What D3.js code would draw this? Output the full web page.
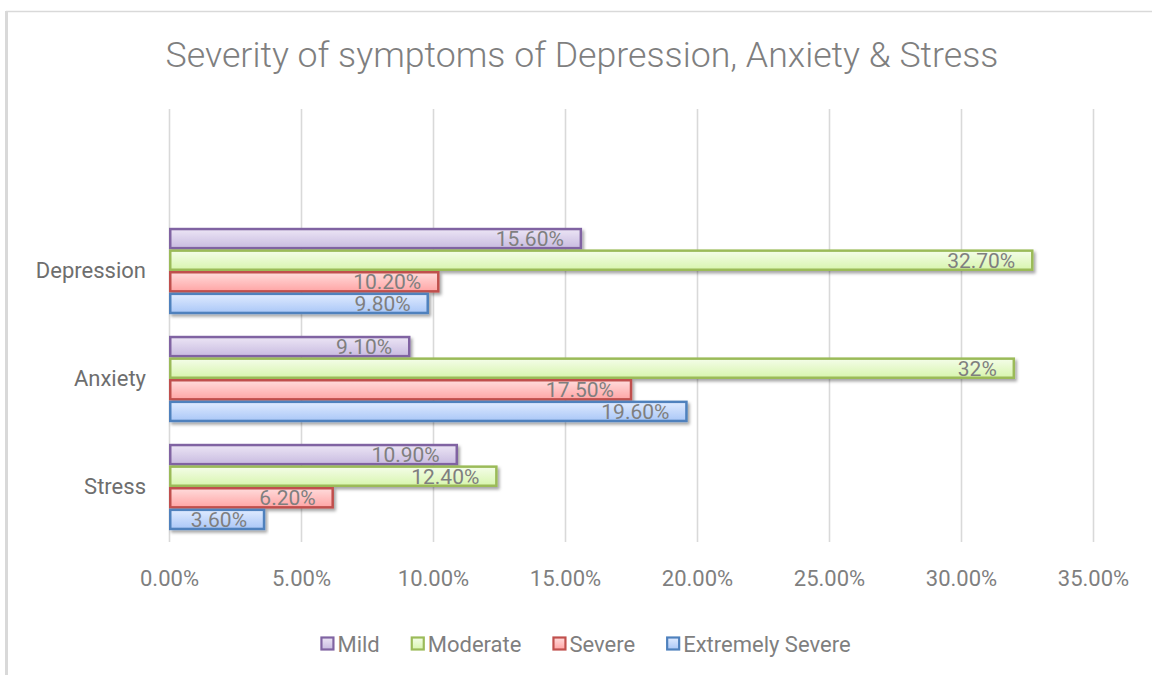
<!DOCTYPE html>
<html>
<head>
<meta charset="utf-8">
<script src="https://cdn.jsdelivr.net/npm/d3@7"></script>
<style>
  html, body { margin: 0; padding: 0; background: #ffffff; }
  svg { display: block; }
  text { font-family: Roboto, "Open Sans", sans-serif; }
</style>
</head>
<body>
<svg id="chart" width="1152" height="675"></svg>
<script>
// ---- data ----
const title = "Severity of symptoms of Depression, Anxiety & Stress";
const categories = ["", "Depression", "Anxiety", "Stress"]; // top row is an empty category
const seriesNames = ["Mild", "Moderate", "Severe", "Extremely Severe"];
const mild = [null, 15.6, 9.1, 10.9];
const moderate = [null, 32.7, 32.0, 12.4];
const severe = [null, 10.2, 17.5, 6.2];
const extremelySevere = [null, 9.8, 19.6, 3.6];
const dataLabels = {
  "Mild": [null, "15.60%", "9.10%", "10.90%"],
  "Moderate": [null, "32.70%", "32%", "12.40%"],
  "Severe": [null, "10.20%", "17.50%", "6.20%"],
  "Extremely Severe": [null, "9.80%", "19.60%", "3.60%"]
};
const xTicks = [0, 5, 10, 15, 20, 25, 30, 35];
const xTickLabels = ["0.00%", "5.00%", "10.00%", "15.00%", "20.00%", "25.00%", "30.00%", "35.00%"];

const seriesValues = { "Mild": mild, "Moderate": moderate, "Severe": severe, "Extremely Severe": extremelySevere };
const borderColors = { "Mild": "#8064a2", "Moderate": "#9bbb59", "Severe": "#c0504d", "Extremely Severe": "#4f81bd" };
const gradTop = { "Mild": "#ece5f5", "Moderate": "#f4fde9", "Severe": "#ffdcdc", "Extremely Severe": "#e0ebff" };
const gradBot = { "Mild": "#c8bbe0", "Moderate": "#d8f5ae", "Severe": "#ffa5a5", "Extremely Severe": "#aac7f7" };

const svg = d3.select("#chart");
const W = 1152, H = 675;

// defs
const defs = svg.append("defs");
seriesNames.forEach((s, i) => {
  const g = defs.append("linearGradient").attr("id", "g" + i).attr("x1", 0).attr("y1", 0).attr("x2", 0).attr("y2", 1);
  g.append("stop").attr("offset", "0%").attr("stop-color", gradTop[s]);
  g.append("stop").attr("offset", "100%").attr("stop-color", gradBot[s]);
});
const f = defs.append("filter").attr("id", "shadow").attr("x", "-5%").attr("y", "-30%").attr("width", "110%").attr("height", "170%");
f.append("feDropShadow").attr("dx", 2).attr("dy", 2.5).attr("stdDeviation", 1.5).attr("flood-color", "#000").attr("flood-opacity", 0.35);

// chart border (frame)
svg.append("rect").attr("x", 0).attr("y", 0).attr("width", W).attr("height", H).attr("fill", "#fff");
svg.append("line").attr("x1", 6).attr("x2", W).attr("y1", 11.5).attr("y2", 11.5).attr("stroke", "#d9d9d9").attr("stroke-width", 1.5);
svg.append("line").attr("x1", 6.5).attr("x2", 6.5).attr("y1", 11).attr("y2", H).attr("stroke", "#d9d9d9").attr("stroke-width", 3);

// scales
const x = d3.scaleLinear().domain([0, 35]).range([169, 1093]);
const y = d3.scaleBand().domain(categories).range([109, 541]).paddingInner(0).paddingOuter(0);
const ys = d3.scaleBand().domain(seriesNames).range([0, y.bandwidth()]).paddingInner(0).paddingOuter(0.5);

// gridlines
svg.append("g").selectAll("line").data(xTicks).join("line")
  .attr("x1", d => Math.round(x(d)) + 0.5).attr("x2", d => Math.round(x(d)) + 0.5)
  .attr("y1", 109).attr("y2", 542)
  .attr("stroke", "#d9d9d9").attr("stroke-width", 1.6);

// x axis labels
const xAxis = d3.axisBottom(x).tickValues(xTicks).tickFormat((d, i) => xTickLabels[i]).tickSize(0).tickPadding(0);
const xg = svg.append("g").attr("transform", "translate(0,569)").call(xAxis);
xg.select(".domain").remove();
xg.selectAll("text").attr("fill", "#7f7f7f").attr("font-size", 22).attr("dy", "0.75em");

// y axis labels
const yAxis = d3.axisLeft(y).tickSize(0).tickPadding(0);
const yg = svg.append("g").attr("transform", "translate(146,0)").call(yAxis);
yg.select(".domain").remove();
yg.selectAll("text").attr("fill", "#6e6e6e").attr("font-size", 22).attr("text-anchor", "end").attr("dy", "0.3em");

// bars
const rows = [];
seriesNames.forEach((s, si) => {
  categories.forEach((c, ci) => {
    const v = seriesValues[s][ci];
    if (v != null) rows.push({ s, si, c, v, label: dataLabels[s][ci] });
  });
});
const bw = 2.5;
svg.append("g").selectAll("rect").data(rows).join("rect")
  .attr("x", x(0) + bw / 2)
  .attr("y", d => y(d.c) + ys(d.s) + bw / 2)
  .attr("width", d => x(d.v) - x(0) - bw / 2)
  .attr("height", ys.bandwidth() - bw)
  .attr("fill", d => `url(#g${d.si})`)
  .attr("stroke", d => borderColors[d.s])
  .attr("stroke-width", bw)
  .attr("filter", "url(#shadow)");

// data labels
svg.append("g").selectAll("text").data(rows).join("text")
  .attr("x", d => x(d.v) - 17)
  .attr("y", d => y(d.c) + ys(d.s) + ys.bandwidth() / 2)
  .attr("dy", "0.36em")
  .attr("text-anchor", "end")
  .attr("font-size", 21)
  .attr("fill", "#7f7f7f")
  .text(d => d.label);

// title
svg.append("text").attr("x", 582).attr("y", 67).attr("text-anchor", "middle")
  .attr("font-size", 35.7).attr("font-weight", 300).attr("fill", "#7f7f7f").text(title);

// legend
const lg = svg.append("g");
const items = lg.selectAll("g").data(seriesNames).join("g");
items.append("rect").attr("x", 0).attr("y", -6.5).attr("width", 12).attr("height", 12)
  .attr("fill", (d, i) => `url(#g${i})`).attr("stroke", d => borderColors[d]).attr("stroke-width", 2.2);
items.append("text").attr("x", 16).attr("y", 0).attr("dy", "0.35em").attr("font-size", 22)
  .attr("fill", "#7f7f7f").text(d => d);
let cx = 0;
const gap = 32;
items.each(function () {
  const w = this.getBBox().width;
  d3.select(this).attr("transform", `translate(${cx},0)`);
  cx += w + gap;
});
const totalW = cx - gap;
lg.attr("transform", `translate(${586 - totalW / 2},644)`);
</script>
</body>
</html>
